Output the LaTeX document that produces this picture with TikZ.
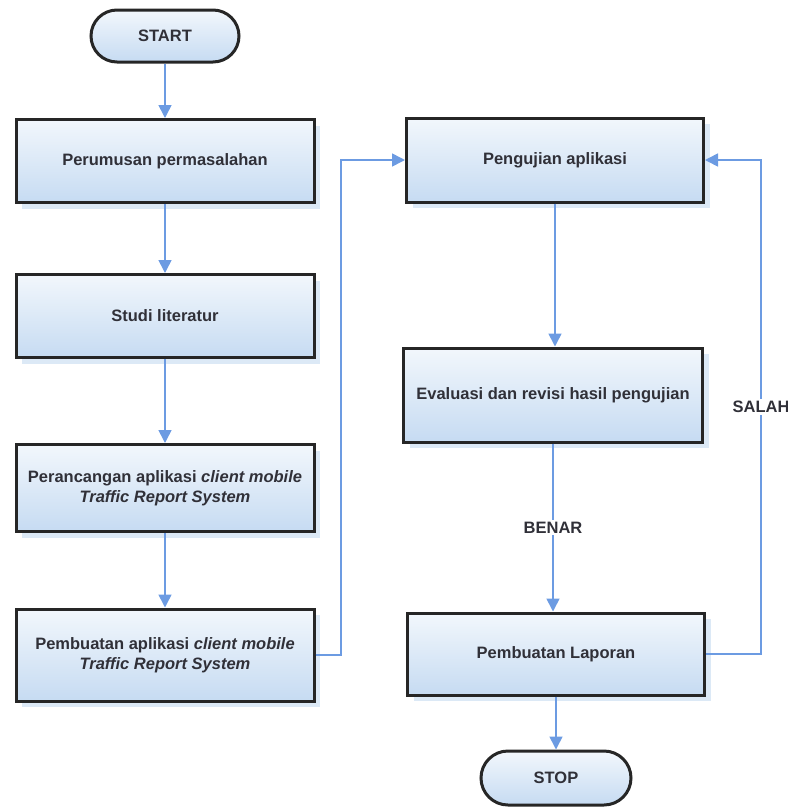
\documentclass[tikz,border=0pt]{standalone}
\usepackage{fontspec}
\setmainfont{Liberation Sans}
\usetikzlibrary{arrows.meta, shapes.misc, shadows}

\definecolor{garis}{RGB}{108,155,226}
\definecolor{atas}{RGB}{242,247,252}
\definecolor{bawah}{RGB}{198,219,242}
\definecolor{bayang}{RGB}{196,218,240}
\definecolor{teks}{RGB}{48,48,56}

\begin{document}
\begin{tikzpicture}[
	x=1pt, y=-1pt,
	proses/.style = {rectangle, draw=black!85, line width=3pt, top color=atas, bottom color=bawah,
		drop shadow={shadow xshift=6pt, shadow yshift=-6pt, fill=bayang, opacity=0.6},
		text=teks, font=\fontsize{16.5}{20}\selectfont\bfseries, align=center, inner sep=0pt},
	ujung/.style = {rounded rectangle, draw=black!85, line width=3pt, top color=atas, bottom color=bawah,
		text=teks, font=\fontsize{16.5}{20}\selectfont\bfseries, inner sep=0pt,
		minimum width=148pt, minimum height=52pt},
	r/.style = {-{Triangle[length=13pt, width=13pt]}, draw=garis, line width=1.6pt},
	lbl/.style = {fill=white, text=teks, font=\fontsize{16.5}{20}\selectfont\bfseries, inner sep=2pt}
	]
	
	\useasboundingbox (0,0) rectangle (788,807);
	
	%Nodes
	\node[ujung]	(start)		at	(165, 36)	{START};
	\node[proses, minimum width=298pt, minimum height=83pt]	(rumus)		at	(165, 161)	{Perumusan permasalahan};
	\node[proses, minimum width=298pt, minimum height=83pt]	(studi)		at	(165, 316)	{Studi literatur};
	\node[proses, minimum width=298pt, minimum height=87pt]	(rancang)	at	(165, 488)
		{Perancangan aplikasi \textit{client mobile}\\\textit{Traffic Report System}};
	\node[proses, minimum width=298pt, minimum height=92pt]	(buat)		at	(165, 655)
		{Pembuatan aplikasi \textit{client mobile}\\\textit{Traffic Report System}};
	
	\node[proses, minimum width=297pt, minimum height=84pt]	(uji)		at	(555, 160)	{Pengujian aplikasi};
	\node[proses, minimum width=299pt, minimum height=94pt]	(eval)		at	(553, 395)	{Evaluasi dan revisi hasil pengujian};
	\node[proses, minimum width=297pt, minimum height=82pt]	(lapor)		at	(556, 654)	{Pembuatan Laporan};
	\node[ujung, minimum width=150pt, minimum height=54pt]	(stop)		at	(556, 778)	{STOP};
	
	\coordinate	(kiri)	at	(341, 655);
	\coordinate	(kanan)	at	(761, 654);
	
	%Lines
	\draw[r]	(start)		--	(start |- rumus.north);
	\draw[r]	(rumus)		--	(rumus |- studi.north);
	\draw[r]	(studi)		--	(studi |- rancang.north);
	\draw[r]	(rancang)	--	(rancang |- buat.north);
	\draw[r]	(buat.east)	--	(kiri)	|-	(uji.west);
	\draw[r]	(uji)		--	(uji |- eval.north);
	\draw[r]	(eval)		--	node[lbl]	{BENAR}	(eval |- lapor.north);
	\draw[r]	(lapor.east)	--	(kanan)	|-	node[lbl, pos=0.25]	{SALAH}	(uji.east);
	\draw[r]	(lapor)		--	(lapor |- stop.north);
\end{tikzpicture}
\end{document}
